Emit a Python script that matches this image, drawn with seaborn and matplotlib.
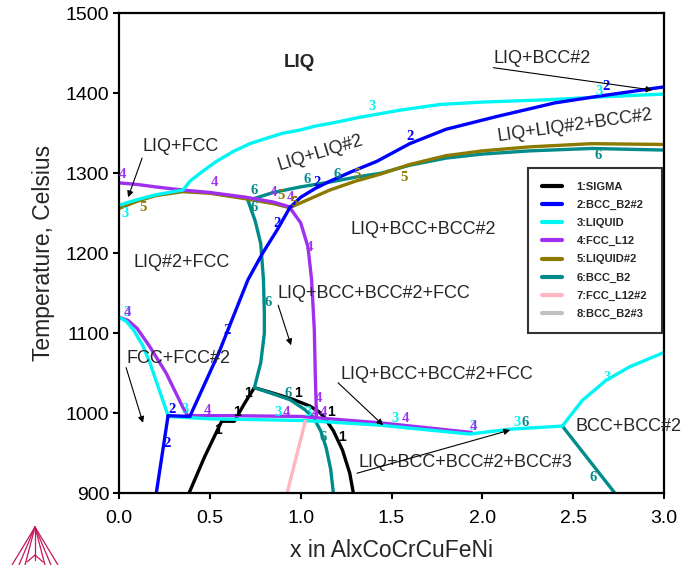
import numpy as np
import pandas as pd
import matplotlib.pyplot as plt
import seaborn as sns
from matplotlib.lines import Line2D

# Fases y colores (orden de la leyenda)
FASES = ['1:SIGMA', '2:BCC_B2#2', '3:LIQUID', '4:FCC_L12', '5:LIQUID#2',
         '6:BCC_B2', '7:FCC_L12#2', '8:BCC_B2#3']
COLORES = ['#000000', '#0000ff', '#00f5f5', '#a030f0', '#8c7a00',
           '#008b8b', '#ffb6c1', '#c0c0c0']

# Curvas: (x en AlxCoCrCuFeNi, T en Celsius), por segmento
sigma_x1 = [0.385, 0.47, 0.565, 0.635, 0.69, 0.745]
sigma_t1 = [900, 945, 990, 990, 1012, 1032]
sigma_x2 = [0.745, 0.85, 0.95, 1.05, 1.10, 1.13, 1.18, 1.23, 1.27, 1.29]
sigma_t2 = [1032, 1025, 1018, 1009, 1002, 995, 978, 954, 925, 900]

bcc2_x1 = [0.205, 0.27]
bcc2_t1 = [900, 997]
bcc2_x2 = [0.27, 0.39]
bcc2_t2 = [997, 996]
bcc2_x3 = [0.39, 0.55, 0.71, 0.79, 0.87, 0.94]
bcc2_t3 = [996, 1076, 1167, 1200, 1229, 1257]
bcc2_x4 = [0.94, 1.0, 1.08, 1.16, 1.28, 1.42, 1.6, 1.8, 2.08, 2.4, 2.63, 3.0]
bcc2_t4 = [1257, 1270, 1281, 1290, 1302, 1315, 1337, 1355, 1371, 1388, 1396, 1408]

liq_x1 = [0, 0.1, 0.2, 0.3, 0.352, 0.39, 0.446, 0.53, 0.627, 0.72, 0.815,
          0.9, 0.996, 1.08, 1.178, 1.326, 1.55, 1.767, 2.0, 2.37, 2.7, 3.0]
liq_t1 = [1260, 1267, 1273, 1277, 1279, 1290, 1300, 1314, 1327, 1337, 1344,
          1350, 1354, 1359, 1363, 1370, 1379, 1386, 1389, 1392, 1396, 1399]
liq_x2 = [0, 0.04, 0.08, 0.13, 0.17, 0.22, 0.27]
liq_t2 = [1120, 1115, 1104, 1085, 1063, 1030, 997]
liq_x3 = [0.27, 0.5, 1.0, 1.16, 1.44, 1.93, 2.15, 2.44]
liq_t3 = [996, 993, 991, 989, 985, 974, 980, 984]
liq_x4 = [2.44, 2.55, 2.68, 2.81, 3.0]
liq_t4 = [984, 1016, 1041, 1058, 1076]

fcc_x1 = [0, 0.1, 0.2, 0.352, 0.5, 0.7, 0.85, 0.94]
fcc_t1 = [1288, 1286, 1283, 1279, 1276, 1270, 1264, 1258]
fcc_x2 = [0.94, 1.0, 1.04, 1.06, 1.075, 1.08, 1.085, 1.085]
fcc_t2 = [1257, 1238, 1208, 1167, 1104, 1050, 1012, 996]
fcc_x3 = [0, 0.05, 0.1, 0.17, 0.26, 0.35, 0.38]
fcc_t3 = [1120, 1116, 1106, 1083, 1050, 1008, 996]
fcc_x4 = [0.38, 0.6, 1.0, 1.16, 1.44, 1.94]
fcc_t4 = [997, 997, 996, 993, 988, 976]

liq2_x1 = [0, 0.1, 0.2, 0.352, 0.5, 0.7, 0.85, 0.94]
liq2_t1 = [1256, 1265, 1272, 1277, 1275, 1268, 1262, 1257]
liq2_x2 = [0.94, 1.05, 1.16, 1.3, 1.44, 1.6, 1.8, 2.0, 2.26, 2.6, 3.0]
liq2_t2 = [1257, 1268, 1279, 1290, 1299, 1311, 1322, 1328, 1333, 1337, 1336]

b2_x1 = [0.71, 0.85, 1.0, 1.16, 1.3, 1.44, 1.6, 1.8, 2.0, 2.26, 2.6, 3.0]
b2_t1 = [1266, 1276, 1283, 1289, 1295, 1300, 1310, 1319, 1324, 1328, 1331, 1329]
b2_x2 = [0.71, 0.75, 0.78, 0.795, 0.80, 0.80, 0.78, 0.745]
b2_t2 = [1266, 1240, 1212, 1167, 1125, 1100, 1063, 1032]
b2_x3 = [0.745, 0.85, 0.94, 1.02, 1.07, 1.11, 1.14, 1.165, 1.18]
b2_t3 = [1032, 1024, 1017, 1005, 995, 978, 957, 930, 900]
b2_x4 = [2.44, 2.73]
b2_t4 = [984, 900]

fcc2_x1 = [0.925, 1.025]
fcc2_t1 = [900, 990]

SEGMENTOS = [
    (0, sigma_x1, sigma_t1), (0, sigma_x2, sigma_t2),
    (5, b2_x1, b2_t1), (5, b2_x2, b2_t2), (5, b2_x3, b2_t3), (5, b2_x4, b2_t4),
    (4, liq2_x1, liq2_t1), (4, liq2_x2, liq2_t2),
    (3, fcc_x1, fcc_t1), (3, fcc_x2, fcc_t2), (3, fcc_x3, fcc_t3), (3, fcc_x4, fcc_t4),
    (2, liq_x1, liq_t1), (2, liq_x2, liq_t2), (2, liq_x3, liq_t3), (2, liq_x4, liq_t4),
    (1, bcc2_x1, bcc2_t1), (1, bcc2_x2, bcc2_t2), (1, bcc2_x3, bcc2_t3), (1, bcc2_x4, bcc2_t4),
    (6, fcc2_x1, fcc2_t1),
]

# Etiquetas numericas de las curvas: (texto, indice color, x, T)
ETIQUETAS = [
    ('3', 2, 1.393, 1383), ('3', 2, 2.64, 1402), ('2', 1, 2.68, 1409),
    ('2', 1, 1.602, 1346), ('6', 5, 2.638, 1322), ('5', 4, 1.569, 1295),
    ('6', 5, 1.035, 1292), ('2', 1, 1.09, 1288), ('6', 5, 1.20, 1298),
    ('5', 4, 1.31, 1298), ('4', 3, 0.017, 1298), ('3', 2, 0.033, 1250),
    ('5', 4, 0.132, 1257), ('4', 3, 0.523, 1288), ('6', 5, 0.743, 1279),
    ('6', 5, 0.743, 1257), ('4', 3, 0.85, 1276), ('5', 4, 0.89, 1272),
    ('4', 3, 0.945, 1270), ('5', 4, 0.965, 1264), ('2', 1, 0.87, 1237),
    ('4', 3, 1.046, 1207), ('6', 5, 0.82, 1139), ('2', 1, 0.595, 1104),
    ('3', 2, 0.044, 1126), ('4', 3, 0.047, 1126), ('2', 1, 0.292, 1005),
    ('3', 2, 0.363, 1005), ('4', 3, 0.485, 1004), ('2', 1, 0.264, 962),
    ('6', 5, 0.93, 1025), ('3', 2, 0.875, 1001), ('4', 3, 0.92, 1001),
    ('3', 2, 1.04, 1001), ('4', 3, 1.083, 1001), ('4', 3, 1.096, 1018),
    ('4', 3, 1.126, 1001), ('6', 5, 1.123, 970), ('3', 2, 1.52, 994),
    ('4', 3, 1.575, 994), ('3', 2, 1.949, 983), ('4', 3, 1.952, 983),
    ('3', 2, 2.19, 989), ('6', 5, 2.236, 989), ('3', 2, 2.687, 1045),
    ('6', 5, 2.61, 920),
]
ETIQUETAS_SIGMA = [(0.545, 979), (0.65, 1001), (0.71, 1025), (0.986, 1025),
                   (1.165, 1001), (1.228, 970)]

# Regiones de fase: (texto, x, T, alineacion, rotacion)
REGIONES = [
    ('LIQ+BCC#2', 2.06, 1444, 'left', 0),
    ('LIQ+FCC', 0.127, 1333, 'left', 0),
    ('LIQ+LIQ#2', 1.107, 1325, 'center', 17),
    ('LIQ+LIQ#2+BCC#2', 2.51, 1359, 'center', 8),
    ('LIQ+BCC+BCC#2', 1.674, 1230, 'center', 0),
    ('LIQ#2+FCC', 0.347, 1189, 'center', 0),
    ('LIQ+BCC+BCC#2+FCC', 0.87, 1150, 'left', 0),
    ('FCC+FCC#2', 0.039, 1069, 'left', 0),
    ('LIQ+BCC+BCC#2+FCC', 1.217, 1049, 'left', 0),
    ('LIQ+BCC+BCC#2+BCC#3', 1.316, 939, 'left', 0),
    ('BCC+BCC#2', 2.511, 983, 'left', 0),
]
# Flechas: (cola x, cola T, punta x, punta T)
FLECHAS = [
    (2.06, 1432, 2.935, 1404),
    (0.127, 1319, 0.05, 1270),
    (0.876, 1135, 0.947, 1085),
    (0.039, 1057, 0.132, 988),
    (1.206, 1038, 1.454, 985),
    (1.31, 925, 2.153, 979),
]

sns.set_theme(style="ticks")
plt.rcParams['font.family'] = ['Liberation Sans', 'DejaVu Sans']

fig, ax = plt.subplots(figsize=(6.86, 5.65), dpi=100)
fig.subplots_adjust(left=0.1735, right=0.968, bottom=0.127, top=0.9765)

for idx, xs, ts in SEGMENTOS:
    df = pd.DataFrame({'x': xs, 'T': ts})
    sns.lineplot(data=df, x='x', y='T', sort=False, estimator=None,
                 color=COLORES[idx], linewidth=2.4, ax=ax, legend=False)

for txt, idx, x, t in ETIQUETAS:
    ax.text(x, t, txt, color=COLORES[idx], fontsize=10.5, fontweight='bold',
            family='Liberation Serif', ha='center', va='center')
for x, t in ETIQUETAS_SIGMA:
    ax.text(x, t, '1', color='black', fontsize=10, fontweight='bold',
            ha='center', va='center')

ax.text(0.99, 1439, 'LIQ', fontsize=13.5, fontweight='bold', ha='center', va='center')
for txt, x, t, ha, rot in REGIONES:
    ax.text(x, t, txt, fontsize=13, ha=ha, va='center', rotation=rot,
            rotation_mode='anchor')
for x0, t0, x1, t1 in FLECHAS:
    ax.annotate('', xy=(x1, t1), xytext=(x0, t0),
                arrowprops=dict(arrowstyle='-|>', color='black', lw=0.8,
                                mutation_scale=9, shrinkA=0, shrinkB=0))

ax.set_xlim(0, 3.0)
ax.set_ylim(900, 1500)
ax.set_xticks(np.arange(0, 3.01, 0.5))
ax.set_xticklabels([f'{v:.1f}' for v in np.arange(0, 3.01, 0.5)])
ax.set_yticks(np.arange(900, 1501, 100))
ax.tick_params(axis='both', labelsize=14, direction='out', length=4, width=1.5,
               color='black', labelcolor='black')
ax.tick_params(axis='x', pad=8)
ax.tick_params(axis='y', pad=3)
for sp in ax.spines.values():
    sp.set_visible(True)
    sp.set_color('black')
    sp.set_linewidth(1.6)
ax.set_xlabel('x in AlxCoCrCuFeNi', fontsize=16.5, labelpad=9)
ax.set_ylabel('Temperature, Celsius', fontsize=16.5, labelpad=8)

handles = [Line2D([0], [0], color=c, lw=3) for c in COLORES]
leg = ax.legend(handles, FASES, loc='upper left', bbox_to_anchor=(0.75, 0.678),
                prop={'size': 8, 'weight': 'bold'}, frameon=True, fancybox=False,
                handlelength=1.8, handletextpad=1.3, labelspacing=0.72,
                borderpad=1.3, borderaxespad=0)
leg.get_frame().set_edgecolor('black')
leg.get_frame().set_linewidth(1.5)

# Logo (triangulo) abajo a la izquierda, en pixeles de la figura
W, H = 686, 565
logo = [((35, 527), (12, 565)), ((35, 527), (19, 565)), ((35, 527), (25, 565)),
        ((35, 527), (58, 565)), ((35, 527), (51, 565)), ((35, 527), (45, 565)),
        ((35, 527), (35, 560)), ((27, 562), (35, 555)), ((35, 555), (43, 562))]
for (xa, ya), (xb, yb) in logo:
    fig.add_artist(Line2D([xa / W, xb / W], [1 - ya / H, 1 - yb / H],
                          color='#c2185b', lw=0.9, transform=fig.transFigure))

fig.savefig('out.png', dpi=100)
